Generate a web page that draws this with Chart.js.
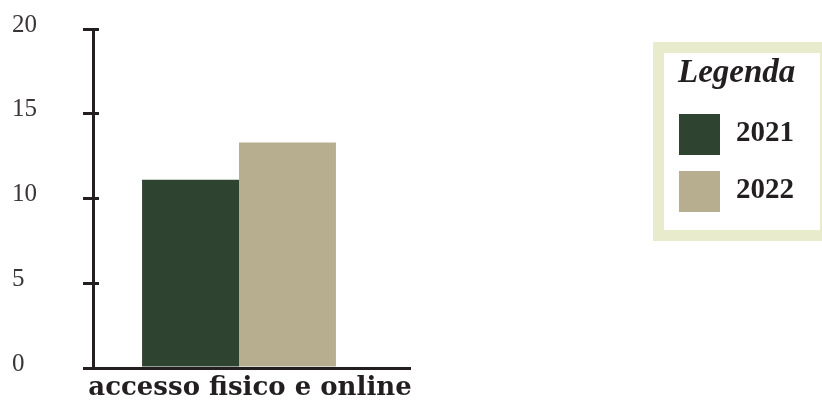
<!DOCTYPE html>
<html>
<head>
<meta charset="utf-8">
<script src="https://cdn.jsdelivr.net/npm/chart.js@4.4.1/dist/chart.umd.min.js"></script>
<style>
    html, body { margin: 0; padding: 0; background: #fff; }
    #wrap { width: 822px; height: 401px; }
</style>
</head>
<body>
<div id="wrap"><canvas id="main_chart" width="822" height="401"></canvas></div>
<script>
// chart data
const categories = ["accesso fisico e online"];
const seriesNames = ["2021", "2022"];
const values2021 = [11.1];
const values2022 = [13.3];
const yTicks = [0, 5, 10, 15, 20];

const ink = '#231f20';
const colors = ['#2f4430', '#b7ae8f'];

// snap a line to the pixel grid the same way chart.js does for its borders
const snap = (p, w) => Math.round(p - w / 2) + w / 2;

// tick marks crossing the y axis, plus the little overhang of the x axis
const axisMarks = {
    id: 'axisMarks',
    afterDraw(chart, args, opts) {
        const ctx = chart.ctx;
        const y = chart.scales.y;
        const x0 = chart.chartArea.left;
        ctx.save();
        ctx.strokeStyle = ink;
        ctx.lineWidth = 3;
        y.ticks.forEach((t) => {
            const py = snap(y.getPixelForValue(t.value), 3);
            ctx.beginPath();
            ctx.moveTo(x0 - opts.outer, py);
            ctx.lineTo(x0 + opts.inner, py);
            ctx.stroke();
        });
        const by = snap(chart.chartArea.bottom, 3);
        ctx.beginPath();
        ctx.moveTo(chart.chartArea.right - 2, by);
        ctx.lineTo(chart.chartArea.right + opts.extendRight, by);
        ctx.stroke();
        ctx.restore();
    }
};

// boxed legend on the right
const boxLegend = {
    id: 'boxLegend',
    afterDraw(chart, args, opts) {
        const ctx = chart.ctx;
        ctx.save();
        ctx.strokeStyle = opts.borderColor;
        ctx.lineWidth = opts.borderWidth;
        ctx.strokeRect(opts.x, opts.y, opts.w, opts.h);

        ctx.fillStyle = ink;
        ctx.textBaseline = 'alphabetic';
        ctx.textAlign = 'left';
        ctx.font = opts.titleFont;
        ctx.fillText(opts.title, opts.titleX, opts.titleY);

        ctx.font = opts.itemFont;
        chart.data.datasets.forEach((ds, i) => {
            const top = opts.itemY + i * opts.step;
            ctx.fillStyle = ds.backgroundColor;
            ctx.fillRect(opts.itemX, top, opts.box, opts.box);
            ctx.fillStyle = ink;
            ctx.fillText(ds.label, opts.textX, top + opts.textDy);
        });
        ctx.restore();
    }
};

let chart1 = new Chart(document.getElementById('main_chart'), {
    type: 'bar',
    data: {
        labels: categories,
        datasets: [{
            label: seriesNames[0],
            data: values2021,
            backgroundColor: colors[0],
        }, {
            label: seriesNames[1],
            data: values2022,
            backgroundColor: colors[1],
        }]
    },
    options: {
        responsive: false,
        animation: false,
        categoryPercentage: 0.664,
        barPercentage: 1,
        layout: {
            padding: { left: 12, top: 29, right: 437, bottom: 0 }
        },
        scales: {
            x: {
                grid: { display: true, drawOnChartArea: false, drawTicks: false, lineWidth: 3, color: ink },
                border: { display: true, width: 3, color: ink },
                ticks: {
                    color: ink,
                    padding: 5,
                    labelOffset: 11,
                    font: { family: 'DejaVu Serif', size: 26, weight: 'bold' }
                },
                afterFit(scale) { scale.height = 33; }
            },
            y: {
                min: 0,
                max: 20,
                afterBuildTicks(scale) {
                    scale.ticks = yTicks.map((v) => ({ value: v }));
                },
                grid: { display: true, drawOnChartArea: false, drawTicks: false, lineWidth: 3, color: ink },
                border: { display: true, width: 3, color: ink },
                ticks: {
                    color: '#3a3536',
                    crossAlign: 'far',
                    labelOffset: -4,
                    font: { family: 'Liberation Serif', size: 25 }
                },
                afterFit(scale) { scale.width = 81; }
            }
        },
        plugins: {
            legend: { display: false },
            tooltip: { enabled: false },
            axisMarks: { outer: 10, inner: 6, extendRight: 26 },
            boxLegend: {
                x: 658.5, y: 47.5, w: 167, h: 188,
                borderColor: '#e9ebcd', borderWidth: 11,
                title: 'Legenda',
                titleFont: 'italic bold 33px "Liberation Serif"',
                titleX: 678, titleY: 82,
                itemFont: 'bold 29px "Liberation Serif"',
                itemX: 679, itemY: 114, step: 57, box: 41,
                textX: 736, textDy: 27
            }
        }
    },
    plugins: [axisMarks, boxLegend]
});
</script>
</body>
</html>
